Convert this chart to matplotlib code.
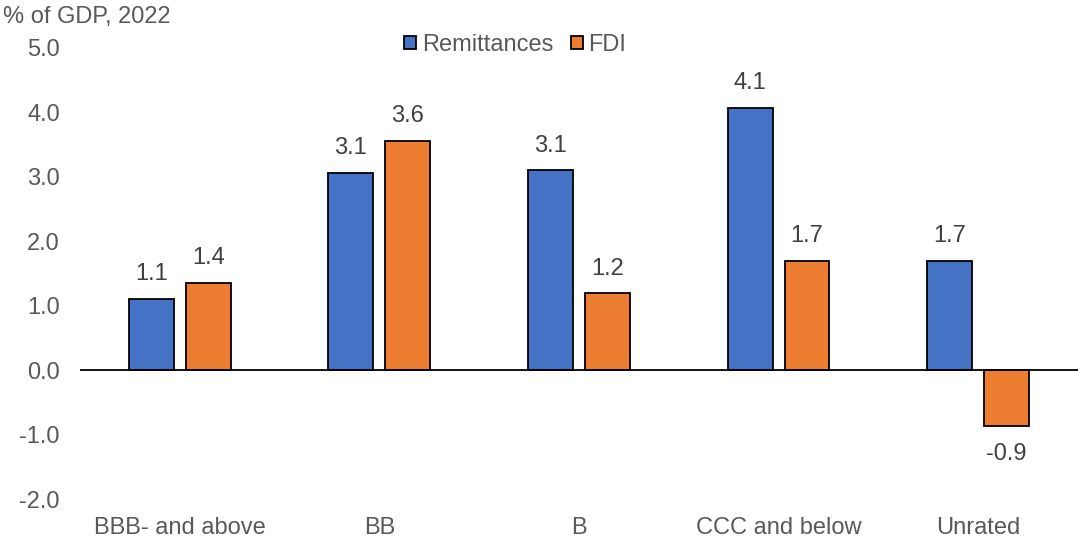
import matplotlib
matplotlib.use("Agg")
import matplotlib.pyplot as plt
import numpy as np

categories = ["BBB- and above", "BB", "B", "CCC and below", "Unrated"]
remittances = [1.11, 3.06, 3.10, 4.07, 1.70]
fdi = [1.35, 3.56, 1.19, 1.69, -0.87]
series_names = ["Remittances", "FDI"]
colors = ["#4472C4", "#ED7D31"]
yticks = [-2.0, -1.0, 0.0, 1.0, 2.0, 3.0, 4.0, 5.0]

plt.rcParams['font.family'] = ['Liberation Sans', 'DejaVu Sans']
txt = "#595959"
FS = 17

fig = plt.figure(figsize=(10.78, 5.41), dpi=100)
ax = fig.add_axes([0.0742, 0.0776, 0.9258, 0.8337])

x = np.arange(len(categories))
w = 0.225
off = 0.1425
b1 = ax.bar(x - off, remittances, w, color=colors[0], edgecolor="black", linewidth=1.3, label=series_names[0], zorder=2)
b2 = ax.bar(x + off, fdi, w, color=colors[1], edgecolor="black", linewidth=1.3, label=series_names[1], zorder=2)

for bars in (b1, b2):
    for r in bars:
        v = r.get_height()
        xc = r.get_x() + r.get_width() / 2
        if v >= 0:
            ax.annotate(f"{v:.1f}", (xc, v), xytext=(0, 10), textcoords="offset points",
                        ha="center", va="bottom", fontsize=FS, color="#404040")
        else:
            ax.annotate(f"{v:.1f}", (xc, v), xytext=(0, -12), textcoords="offset points",
                        ha="center", va="top", fontsize=FS, color="#404040")

ax.set_xlim(-0.5, 4.5)
ax.set_ylim(-2, 5)
ax.set_yticks(yticks)
ax.set_yticklabels([f"{t:.1f}" for t in yticks], fontsize=FS, color=txt)
ax.set_xticks(x)
ax.set_xticklabels(categories, fontsize=FS, color=txt)
ax.tick_params(axis="y", length=0, pad=14.5)
ax.tick_params(axis="x", length=0, pad=13)
for s in ["top", "right", "left", "bottom"]:
    ax.spines[s].set_visible(False)
ax.axhline(0, color="black", linewidth=1.3, zorder=3)

leg = ax.legend(loc="center", bbox_to_anchor=(0.436, 1.007), ncol=2, frameon=False,
                fontsize=FS, handlelength=0.5, handleheight=0.5, handletextpad=0.25,
                columnspacing=0.75, labelcolor=txt, borderpad=0)

fig.text(0.003, 0.968, "% of GDP, 2022", fontsize=FS, color=txt, ha="left", va="center")

fig.savefig("out.png", dpi=100)
